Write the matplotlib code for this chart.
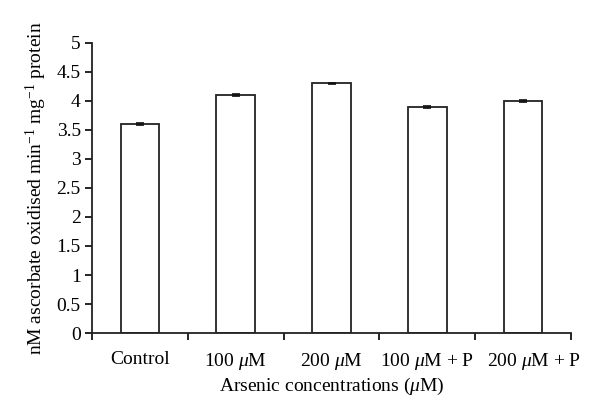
import numpy as np
import matplotlib
matplotlib.use("Agg")
import matplotlib.pyplot as plt
import matplotlib.transforms as mtransforms

plt.rcParams['font.family'] = ['Liberation Serif', 'DejaVu Serif']
plt.rcParams['mathtext.fontset'] = 'custom'
plt.rcParams['mathtext.rm'] = 'Liberation Serif'
plt.rcParams['mathtext.it'] = 'Liberation Serif:italic'

categories = ["Control", r"100 $\mu$M", r"200 $\mu$M", r"100 $\mu$M + P", r"200 $\mu$M + P"]
values = [3.6, 4.1, 4.3, 3.9, 4.0]
errors = [0.012, 0.01, 0.012, 0.018, 0.015]

fig = plt.figure(figsize=(6, 4.2), dpi=100)
ax = fig.add_axes([0.153, 0.207, 0.799, 0.691])

x = np.arange(len(categories))
ax.bar(x, values, width=0.4, color="white", edgecolor="#222222", linewidth=1.3,
       yerr=errors, error_kw=dict(ecolor="#111111", elinewidth=1.0, capsize=3, capthick=1.2))

ax.set_xlim(-0.5, len(categories) - 0.5)
ax.set_ylim(0, 5)
ax.set_yticks(np.arange(0, 5.01, 0.5))
ax.set_yticklabels(["0", "0.5", "1", "1.5", "2", "2.5", "3", "3.5", "4", "4.5", "5"])
ax.set_xticks(np.arange(-0.5, len(categories), 1.0))
ax.set_xticklabels([])
ax.set_xticks(x, minor=True)
ax.set_xticklabels(categories, minor=True)
ax.tick_params(axis='x', which='minor', length=0, pad=13, labelsize=14)
ax.tick_params(axis='x', which='major', length=5, width=1.2, direction='out')
ax.tick_params(axis='y', length=5, width=1.2, direction='out', labelsize=14, pad=3)

# last label sits a little right of its bar in the original
lbls = ax.get_xticklabels(minor=True)
shift = mtransforms.ScaledTranslation(8 / 72, 0, fig.dpi_scale_trans)
lbls[-1].set_transform(lbls[-1].get_transform() + shift)

for s in ['top', 'right']:
    ax.spines[s].set_visible(False)
for s in ['left', 'bottom']:
    ax.spines[s].set_linewidth(1.3)
    ax.spines[s].set_color("#222222")

ax.set_xlabel(r"Arsenic concentrations ($\mu$M)", fontsize=14, labelpad=3)
ax.set_ylabel(r"nM ascorbate oxidised min$^{-1}$ mg$^{-1}$ protein", fontsize=14, labelpad=5)

fig.savefig("out.png", dpi=100)
